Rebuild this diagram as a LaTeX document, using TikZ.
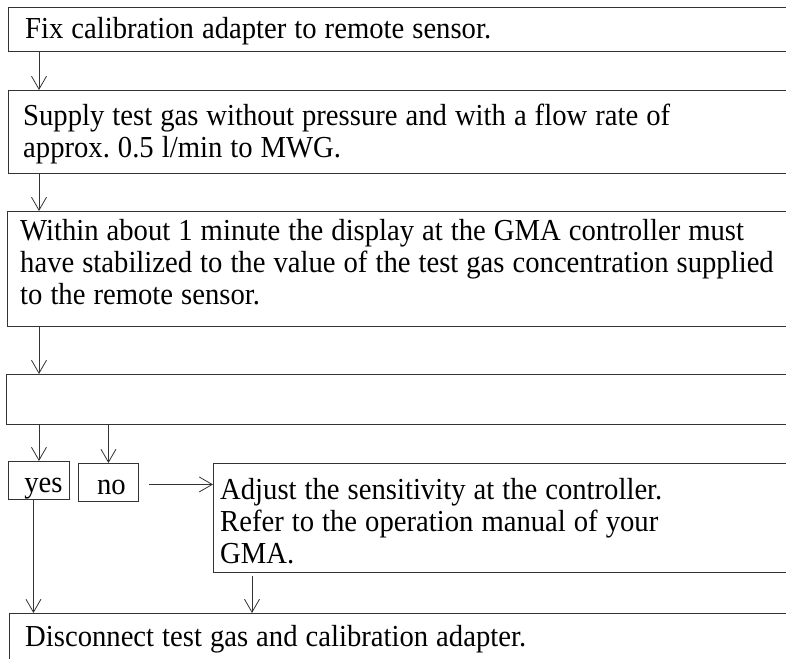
\documentclass[tikz,border=0pt]{standalone}
\usepackage{fontspec}
\setmainfont{Liberation Serif}[FakeStretch=0.94]
\usetikzlibrary{arrows.meta}
\newcommand\bigfs{\fontsize{30.5}{32}\selectfont\spaceskip=8pt\relax\xspaceskip=8pt\relax}
\frenchspacing
\tikzset{
  box/.style={draw=black!80, line width=0.9pt, anchor=north west, inner sep=0pt},
  txt/.style={inner sep=0pt, anchor=west, align=left, font=\bigfs},
  small/.style={draw=black!80, line width=0.9pt, anchor=north west, inner sep=0pt, align=center, font=\bigfs},
  flow/.style={draw=black!80, line width=0.8pt, -{Straight Barb[length=13pt,width=15pt]}}
}
\begin{document}
\begin{tikzpicture}[x=1pt,y=-1pt]
\fill[white] (0,0) rectangle (786,658);
\begin{scope}
\clip (0,0) rectangle (786,658);
\node[box, minimum width=790pt, minimum height=44pt] (b1) at (8,7) {};
\node[box, minimum width=790pt, minimum height=83pt] (b2) at (8,90) {};
\node[box, minimum width=790pt, minimum height=115pt] (b3) at (7,211) {};
\node[box, minimum width=790pt, minimum height=50pt] (b4) at (6,374) {};
\node[box, minimum width=590pt, minimum height=109pt] (adj) at (213,463) {};
\node[box, minimum width=790pt, minimum height=48pt] (b5) at (9,613) {};
\end{scope}
\node[txt] (t1) at ([xshift=17pt,yshift=-2pt]b1.west) {Fix calibration adapter to remote sensor.};
\node[txt] (t2) at ([xshift=15pt,yshift=-2pt]b2.west)
  {Supply test gas without pressure and with a flow rate of\\approx. 0.5 l/min to MWG.};
\node[txt] (t3) at ([xshift=13pt,yshift=6.5pt]b3.west)
  {Within about 1 minute the display at the GMA controller must\\have stabilized to the value of the test gas concentration supplied\\to the remote sensor.};
\node[txt] (ta) at ([xshift=7pt,yshift=-3pt]adj.west)
  {Adjust the sensitivity at the controller.\\Refer to the operation manual of your\\GMA.};
\node[txt] (t5) at ([xshift=16pt,yshift=-2pt]b5.west) {Disconnect test gas and calibration adapter.};
\node[small, minimum width=61pt, minimum height=38pt, text height=24pt, text depth=0pt] (yes) at (8,461) {\hspace{9pt}yes};
\node[small, minimum width=60pt, minimum height=38pt, text height=24pt, text depth=0pt] (no) at (78,463) {\hspace{6pt}no};
\draw[flow] ([xshift=31pt]b1.south west) -- ([xshift=31pt]b2.north west);
\draw[flow] ([xshift=31pt]b2.south west) -- ([xshift=32pt]b3.north west);
\draw[flow] ([xshift=32pt]b3.south west) -- ([xshift=33pt]b4.north west);
\draw[flow] (b4.south -| yes.north) -- (yes.north);
\draw[flow] (b4.south -| no.north) -- (no.north);
\draw[flow] ([xshift=10pt,yshift=-2pt]no.east) -- ([yshift=-2pt]no.east -| adj.west);
\draw[flow] ([xshift=-5.5pt]yes.south) -- ([xshift=-5.5pt]yes.south |- b5.north);
\draw[flow] ([xshift=39pt,yshift=-3pt]adj.south west) -- ([xshift=39pt]adj.south west |- b5.north);
\pgfresetboundingbox
\useasboundingbox (0,0) rectangle (786,658);
\end{tikzpicture}
\end{document}
